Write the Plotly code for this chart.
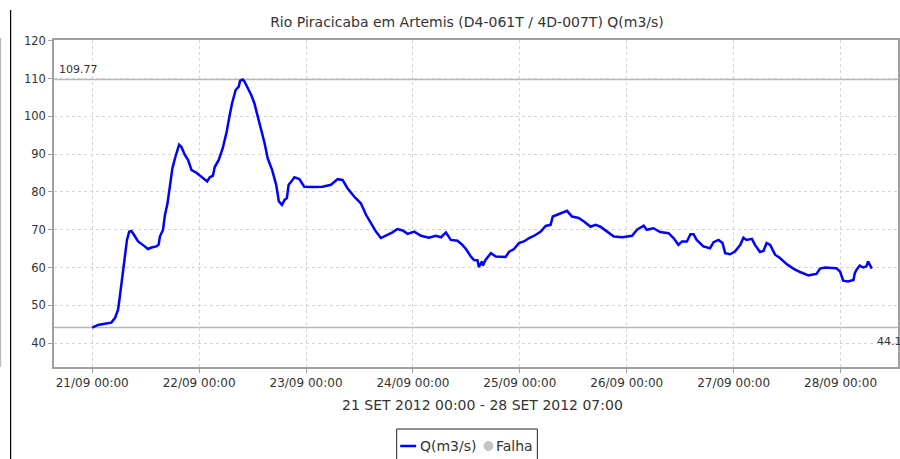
import pandas as pd
import plotly.graph_objects as go

# Vazão observada - Rio Piracicaba em Artemis, horas desde 21/09/2012 00:00
hours = [
    0.0, 1.3, 2.8, 4.3, 5.1, 5.8, 6.2, 6.6, 7.1, 7.5, 7.8, 8.3, 8.8, 9.4, 10.3,
    11.8, 12.5, 13.3, 14.4, 14.9, 15.2, 15.9, 16.3, 16.9, 17.4, 18.0, 18.7,
    19.5, 20.0, 20.8, 21.5, 22.3, 23.4, 24.5, 25.8, 26.4, 27.1, 27.5, 28.4,
    29.3, 30.2, 30.8, 31.4, 32.2, 32.9, 33.2, 33.8, 34.2, 34.9, 35.7, 36.4,
    37.2, 37.9, 38.7, 39.4, 40.4, 41.3, 41.9, 42.6, 43.2, 43.7, 44.1, 44.7,
    45.4, 46.5, 47.6, 49.5, 51.7, 53.6, 55.1, 56.2, 57.3, 58.8, 60.3, 61.5,
    62.6, 63.7, 64.8, 66.3, 67.4, 68.5, 69.7, 70.8, 72.3, 73.8, 75.6, 77.1,
    78.3, 79.4, 80.5, 82.0, 83.1, 83.9, 85.0, 85.7, 86.5, 86.8, 87.5, 87.7,
    88.3, 89.5, 90.6, 92.8, 93.6, 94.7, 95.8, 96.9, 98.1, 99.5, 100.7, 101.8,
    102.9, 103.4, 104.8, 106.6, 107.7, 109.2, 110.4, 111.9, 113.0, 114.1,
    115.6, 117.1, 119.0, 121.2, 122.3, 123.8, 124.5, 126.0, 127.5, 129.4,
    130.5, 131.6, 132.4, 133.5, 134.3, 135.0, 135.7, 137.2, 138.7, 139.5,
    140.6, 141.5, 142.1, 143.2, 144.3, 145.5, 146.2, 146.9, 148.1, 148.8,
    149.9, 150.7, 151.4, 152.2, 153.3, 154.4, 155.9, 157.4, 158.9, 160.8,
    161.5, 162.6, 163.4, 164.5, 167.1, 167.9, 168.6, 169.7, 170.9, 171.2,
    171.6, 172.3, 173.1, 173.8, 174.2, 175.0,
]
flow = [
    44.1, 44.8, 45.1, 45.4, 46.6, 48.8, 52.3, 55.9, 60.3, 64.7, 67.3, 69.5,
    69.7, 68.6, 66.9, 65.6, 64.9, 65.3, 65.6, 66.0, 68.2, 70.0, 73.7, 77.0,
    81.9, 86.3, 89.4, 92.5, 92.0, 89.8, 88.5, 85.8, 85.1, 84.1, 82.8, 83.9,
    84.3, 86.6, 88.5, 91.6, 96.0, 100.0, 103.5, 107.0, 107.9, 109.5, 109.77,
    109.2, 107.5, 105.7, 103.5, 100.0, 96.4, 92.9, 88.9, 85.8, 81.9, 77.5,
    76.6, 77.9, 78.4, 81.9, 82.8, 83.9, 83.4, 81.4, 81.3, 81.4, 81.9, 83.4,
    83.2, 81.0, 78.8, 77.0, 73.9, 71.7, 69.5, 67.8, 68.6, 69.3, 70.2, 69.8,
    68.9, 69.5, 68.4, 67.9, 68.4, 68.0, 69.3, 67.3, 67.1, 66.0, 64.9, 62.9,
    62.0, 61.9, 60.1, 61.6, 60.5, 62.0, 63.8, 62.9, 62.8, 64.2, 64.9, 66.5,
    66.9, 67.8, 68.6, 69.5, 71.0, 71.3, 73.5, 74.2, 75.0, 73.5, 73.1, 72.2,
    70.8, 71.3, 70.8, 69.5, 68.2, 68.0, 68.4, 70.0, 71.1, 70.0, 70.4, 69.4,
    69.1, 67.8, 66.0, 66.9, 66.9, 68.8, 68.8, 67.3, 65.6, 65.1, 66.7, 67.3,
    66.5, 63.8, 63.5, 64.2, 66.0, 67.9, 67.3, 67.6, 66.0, 64.1, 64.4, 66.5,
    66.0, 63.4, 62.5, 60.9, 59.7, 58.8, 57.9, 58.1, 58.3, 59.7, 60.0, 59.8,
    58.9, 56.5, 56.3, 56.7, 58.5, 59.4, 60.5, 60.0, 60.3, 61.6, 59.7,
]

start = pd.Timestamp("2012-09-21 00:00")
times = start + pd.to_timedelta(hours, unit="h")
day_ticks = pd.date_range("2012-09-21", "2012-09-28", freq="D")

title_text = "Rio Piracicaba em Artemis (D4-061T / 4D-007T) Q(m3/s)"
period_text = "21 SET 2012 00:00 - 28 SET 2012 07:00"
series_name = "Q(m3/s)"
fail_name = "Falha"

q_max = max(flow)
q_min = min(flow)

W, H = 900, 459
L, R, T, B = 54, 0, 40, 92
PW, PH = W - L - R, H - T - B


def px(x):
    return (x - L) / PW


def py(y):
    return (H - B - y) / PH


FONT = "DejaVu Sans"
TXT = "#333333"
GRID = "#d4d4d4"
AXIS = "#a0a0a0"

fig = go.Figure()
fig.add_trace(go.Scatter(
    x=times, y=flow, mode="lines", name=series_name,
    line=dict(color="#0000ff", width=2.5),
    showlegend=False, hoverinfo="x+y",
))

# Linhas de máximo e mínimo
for val in (q_max, q_min):
    fig.add_shape(type="line", xref="paper", yref="y", x0=0, x1=1, y0=val, y1=val,
                  line=dict(color="#b8b8b8", width=1.5), layer="below")

annotations = [
    dict(text=f"{q_max:.2f}", xref="paper", yref="paper", x=px(57), y=py(69),
         xanchor="left", yanchor="middle", showarrow=False,
         font=dict(family=FONT, size=11, color=TXT)),
    dict(text=f"{q_min:g}", xref="paper", yref="paper", x=px(877), y=py(341),
         xanchor="left", yanchor="middle", showarrow=False,
         font=dict(family=FONT, size=11, color=TXT)),
    dict(text=period_text, xref="paper", yref="paper", x=px(484), y=py(405),
         xanchor="center", yanchor="middle", showarrow=False,
         font=dict(family=FONT, size=14, color=TXT)),
    # Legenda
    dict(text=series_name, xref="paper", yref="paper", x=px(419), y=py(446),
         xanchor="left", yanchor="middle", showarrow=False,
         font=dict(family=FONT, size=14, color=TXT)),
    dict(text=fail_name, xref="paper", yref="paper", x=px(495), y=py(446),
         xanchor="left", yanchor="middle", showarrow=False,
         font=dict(family=FONT, size=14, color=TXT)),
]

shapes = [
    # caixa da legenda
    dict(type="rect", xref="paper", yref="paper", x0=px(397.5), x1=px(538.5),
         y0=py(429), y1=py(475), line=dict(color="#222222", width=1),
         fillcolor="white"),
    dict(type="line", xref="paper", yref="paper", x0=px(401), x1=px(417),
         y0=py(446), y1=py(446), line=dict(color="#0000ff", width=2.5)),
    dict(type="circle", xref="paper", yref="paper", x0=px(485), x1=px(494),
         y0=py(441.5), y1=py(450.5), line=dict(color="#c4c4c4", width=1),
         fillcolor="#c4c4c4"),
    # bordas da página
    dict(type="line", xref="paper", yref="paper", x0=px(10.5), x1=px(10.5),
         y0=py(10), y1=py(459), line=dict(color="#000000", width=1.2)),
    dict(type="line", xref="paper", yref="paper", x0=px(0.5), x1=px(0.5),
         y0=py(38), y1=py(367), line=dict(color="#b0b0b0", width=1)),
]
for s in shapes:
    fig.add_shape(**s)

fig.update_layout(
    width=W, height=H,
    margin=dict(l=L, r=R, t=T, b=B, pad=0),
    paper_bgcolor="white", plot_bgcolor="white",
    title=dict(text=title_text, x=467 / W, xanchor="center", y=1 - 22 / H,
               yanchor="middle", font=dict(family=FONT, size=14, color=TXT)),
    annotations=annotations,
    font=dict(family=FONT, size=11, color=TXT),
)

fig.update_xaxes(
    type="date",
    range=[start - pd.Timedelta(hours=8.58), start + pd.Timedelta(hours=180.9)],
    tickvals=list(day_ticks), tickformat="%d/%m %H:%M",
    showgrid=True, gridcolor=GRID, griddash="3px,3px", gridwidth=1,
    showline=True, linecolor=AXIS, linewidth=1.5, mirror=True,
    ticks="outside", ticklen=4, tickcolor=AXIS,
    tickfont=dict(family=FONT, size=12, color=TXT),
    zeroline=False,
)
fig.update_yaxes(
    range=[33.65, 120.25], tick0=0, dtick=10,
    showgrid=True, gridcolor=GRID, griddash="3px,3px", gridwidth=1,
    showline=True, linecolor=AXIS, linewidth=1.5, mirror=True,
    ticks="outside", ticklen=4, tickcolor=AXIS,
    tickfont=dict(family=FONT, size=11.5, color=TXT),
    zeroline=False,
)

fig.write_html("out.html")
